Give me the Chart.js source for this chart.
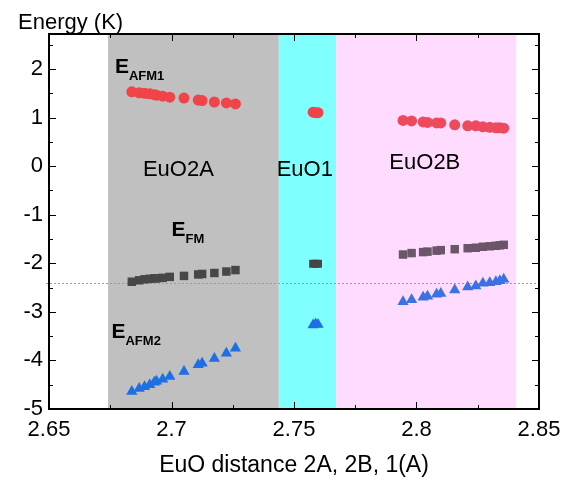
<!DOCTYPE html>
<html><head><meta charset="utf-8">
<script src="https://cdn.jsdelivr.net/npm/chart.js@4"></script>
<style>html,body{margin:0;padding:0;background:#fff}canvas{display:block}</style>
</head><body>
<canvas id="c" width="584" height="480"></canvas>
<script>
// ---- tick labels ----
const xTicks = [2.65, 2.7, 2.75, 2.8, 2.85];
const yTicks = [-5, -4, -3, -2, -1, 0, 1, 2];

// ---- EuO2A region ----
const dist2A  = [2.6838, 2.6868, 2.6890, 2.6911, 2.6930, 2.6939, 2.6964, 2.6993, 2.7051, 2.7109, 2.7125, 2.7175, 2.7224, 2.7261];
const afm1_2A = [1.53, 1.51, 1.50, 1.49, 1.47, 1.46, 1.44, 1.42, 1.40, 1.36, 1.35, 1.32, 1.30, 1.28];
const fm_2A   = [-2.38, -2.35, -2.33, -2.32, -2.31, -2.31, -2.30, -2.28, -2.26, -2.23, -2.22, -2.20, -2.17, -2.14];
const afm2_2A = [-4.64, -4.58, -4.54, -4.50, -4.45, -4.43, -4.39, -4.33, -4.23, -4.09, -4.06, -3.96, -3.85, -3.75];

// ---- EuO1 region ----
const dist1  = [2.7578, 2.7588, 2.7598];
const afm1_1 = [1.11, 1.10, 1.10];
const fm_1   = [-2.01, -2.01, -2.01];
const afm2_1 = [-3.27, -3.25, -3.26];

// ---- EuO2B region ----
const dist2B  = [2.7945, 2.7980, 2.8027, 2.8045, 2.8082, 2.8099, 2.8156, 2.8209, 2.8242, 2.8271, 2.8299, 2.8324, 2.8340, 2.8356];
const afm1_2B = [0.94, 0.93, 0.91, 0.90, 0.89, 0.89, 0.85, 0.83, 0.83, 0.81, 0.80, 0.79, 0.79, 0.78];
const fm_2B   = [-1.82, -1.79, -1.77, -1.76, -1.74, -1.73, -1.71, -1.69, -1.68, -1.66, -1.65, -1.64, -1.63, -1.62];
const afm2_2B = [-2.79, -2.75, -2.70, -2.68, -2.64, -2.62, -2.55, -2.49, -2.47, -2.41, -2.40, -2.38, -2.36, -2.33];

// ---- regions and reference level ----
const bandEdges = [2.6741, 2.7438, 2.7672, 2.8407];
const bandNames = ['EuO2A', 'EuO1', 'EuO2B'];
const refLevel = -2.40;

const FONT = '"Liberation Sans", Arial, sans-serif';
const pts = (xs, ys) => xs.map((x, i) => ({x: x, y: ys[i]}));

function ds(label, xs, ys, style, r, color) {
  return {label: label, data: pts(xs, ys), pointStyle: style, pointRadius: r,
    pointHoverRadius: r, backgroundColor: color, borderColor: color, pointBorderWidth: 0, showLine: false};
}

const bandLabelPos = [{x: 2.7028, y: -0.08}, {x: 2.7544, y: -0.08}, {x: 2.8034, y: 0.07}];
const energyLabels = [
  {main: 'E', sub: 'AFM1', x: 2.6769, y: 1.92},
  {main: 'E', sub: 'FM', x: 2.7000, y: -1.44},
  {main: 'E', sub: 'AFM2', x: 2.6755, y: -3.53}
];

const deco = {
  id: 'deco',
  beforeDatasetsDraw(chart) {
    const {ctx, chartArea: a, scales: {x, y}} = chart;
    ctx.save();
    const cols = ['#c0c0c0', '#80ffff', '#ffdcff'];
    for (let i = 0; i < 3; i++) {
      const l = x.getPixelForValue(bandEdges[i]), r = x.getPixelForValue(bandEdges[i + 1]);
      ctx.fillStyle = cols[i];
      ctx.fillRect(l, a.top, r - l, a.bottom - a.top);
    }
    const yy = Math.round(y.getPixelForValue(refLevel)) + 0.5;
    ctx.strokeStyle = '#9a9a9a'; ctx.lineWidth = 1; ctx.setLineDash([2, 2]);
    ctx.beginPath(); ctx.moveTo(a.left - 3, yy); ctx.lineTo(a.right + 2, yy); ctx.stroke();
    ctx.restore();
  },
  afterDraw(chart) {
    const {ctx, chartArea: a, scales: {x, y}} = chart;
    ctx.save();
    ctx.strokeStyle = '#000'; ctx.lineWidth = 1;
    // inward ticks on four sides
    ctx.beginPath();
    for (let i = 0; i < xTicks.length; i++) {
      const px = Math.round(x.getPixelForValue(xTicks[i])) + 0.5;
      ctx.moveTo(px, a.bottom); ctx.lineTo(px, a.bottom - 7);
      ctx.moveTo(px, a.top); ctx.lineTo(px, a.top + 7);
      if (i < xTicks.length - 1) {
        const pm = Math.round(x.getPixelForValue((xTicks[i] + xTicks[i + 1]) / 2)) + 0.5;
        ctx.moveTo(pm, a.bottom); ctx.lineTo(pm, a.bottom - 4);
        ctx.moveTo(pm, a.top); ctx.lineTo(pm, a.top + 4);
      }
    }
    for (let i = 0; i < yTicks.length; i++) {
      const py = Math.round(y.getPixelForValue(yTicks[i])) + 0.5;
      ctx.moveTo(a.left, py); ctx.lineTo(a.left + 7, py);
      ctx.moveTo(a.right, py); ctx.lineTo(a.right - 7, py);
      const pm = Math.round(y.getPixelForValue(yTicks[i] + 0.5)) + 0.5;
      if (pm > a.top + 2) {
        ctx.moveTo(a.left, pm); ctx.lineTo(a.left + 4, pm);
        ctx.moveTo(a.right, pm); ctx.lineTo(a.right - 4, pm);
      }
    }
    ctx.stroke();
    // frame
    ctx.lineWidth = 2;
    ctx.strokeRect(a.left, a.top, a.right - a.left, a.bottom - a.top);

    // texts
    ctx.fillStyle = '#000';
    ctx.textBaseline = 'middle';
    ctx.font = '22px ' + FONT;
    ctx.textAlign = 'left';
    ctx.fillText('Energy (K)', 18, 23);
    ctx.textAlign = 'center';
    ctx.font = '23px ' + FONT;
    ctx.fillText('EuO distance 2A, 2B, 1(A)', (a.left + a.right) / 2, 466);
    ctx.font = '22px ' + FONT;
    for (let i = 0; i < bandNames.length; i++) {
      ctx.fillText(bandNames[i], x.getPixelForValue(bandLabelPos[i].x), y.getPixelForValue(bandLabelPos[i].y));
    }
    ctx.textAlign = 'left';
    ctx.textBaseline = 'alphabetic';
    energyLabels.forEach(l => {
      const px = x.getPixelForValue(l.x), py = y.getPixelForValue(l.y);
      ctx.font = 'bold 21px ' + FONT;
      ctx.fillText(l.main, px, py);
      const w = ctx.measureText(l.main).width;
      ctx.font = 'bold 13px ' + FONT;
      ctx.fillText(l.sub, px + w, py + 7);
    });
    ctx.restore();
  }
};

new Chart(document.getElementById('c'), {
  type: 'scatter',
  data: {
    datasets: [
      ds('EAFM1 2A', dist2A, afm1_2A, 'circle', 5.5, '#f04448'),
      ds('EFM 2A', dist2A, fm_2A, 'rect', 6, '#474747'),
      ds('EAFM2 2A', dist2A, afm2_2A, 'triangle', 6.5, '#1e6fe3'),
      ds('EAFM1 1', dist1, afm1_1, 'circle', 5.5, '#f04448'),
      ds('EFM 1', dist1, fm_1, 'rect', 5.6, '#454545'),
      ds('EAFM2 1', dist1, afm2_1, 'triangle', 6.5, '#1e6fe3'),
      ds('EAFM1 2B', dist2B, afm1_2B, 'circle', 5.5, '#ee4a5e'),
      ds('EFM 2B', dist2B, fm_2B, 'rect', 6, '#6b5568'),
      ds('EAFM2 2B', dist2B, afm2_2B, 'triangle', 6.5, '#3b72e3')
    ]
  },
  options: {
    responsive: false, animation: false, devicePixelRatio: 1,
    layout: {padding: {top: 34, right: 45, left: 0, bottom: 0}},
    plugins: {legend: {display: false}, tooltip: {enabled: false}, title: {display: false}},
    scales: {
      x: {
        type: 'linear', min: 2.65, max: 2.85,
        afterBuildTicks: s => { s.ticks = xTicks.map(v => ({value: v})); },
        afterFit: s => { s.height = 71; },
        grid: {display: false, drawTicks: false}, border: {display: false},
        ticks: {color: '#000', font: {family: FONT, size: 22}, padding: 8, maxRotation: 0,
          callback: v => String(+v.toFixed(2))}
      },
      y: {
        type: 'linear', min: -5, max: 2.72,
        afterBuildTicks: s => { s.ticks = yTicks.map(v => ({value: v})); },
        afterFit: s => { s.width = 49; },
        grid: {display: false, drawTicks: false}, border: {display: false},
        ticks: {color: '#000', font: {family: FONT, size: 22}, padding: 6,
          callback: v => String(v)}
      }
    }
  },
  plugins: [deco]
});
</script>
</body></html>
